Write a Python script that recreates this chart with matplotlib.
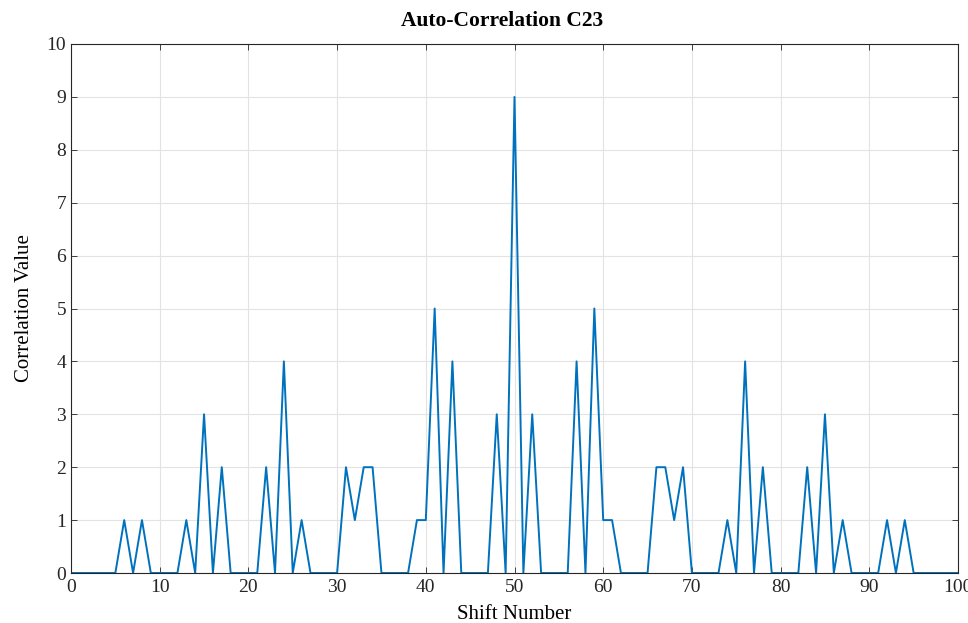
import matplotlib
matplotlib.use("Agg")
import matplotlib.pyplot as plt
import numpy as np

plt.rcParams['font.family'] = ['Liberation Serif', 'DejaVu Serif']

# Auto-correlation values for shifts 0..100
shifts = list(range(0, 101))
corr = [0, 0, 0, 0, 0, 0, 1, 0, 1, 0,
        0, 0, 0, 1, 0, 3, 0, 2, 0, 0,
        0, 0, 2, 0, 4, 0, 1, 0, 0, 0,
        0, 2, 1, 2, 2, 0, 0, 0, 0, 1,
        1, 5, 0, 4, 0, 0, 0, 0, 3, 0,
        9, 0, 3, 0, 0, 0, 0, 4, 0, 5,
        1, 1, 0, 0, 0, 0, 2, 2, 1, 2,
        0, 0, 0, 0, 1, 0, 4, 0, 2, 0,
        0, 0, 0, 2, 0, 3, 0, 1, 0, 0,
        0, 0, 1, 0, 1, 0, 0, 0, 0, 0,
        0]

x_ticks = list(range(0, 101, 10))
y_ticks = list(range(0, 11))

fig = plt.figure(figsize=(9.68, 6.23), dpi=100)
ax = fig.add_axes([71 / 968, 1 - 573 / 623, (958 - 71) / 968, (573 - 44) / 623])

ax.plot(shifts, corr, color='#0072BD', linewidth=1.4)

ax.set_xlim(0, 100)
ax.set_ylim(0, 10)
ax.set_xticks(x_ticks)
ax.set_yticks(y_ticks)
ax.grid(True, color='#e3e3e3', linewidth=0.8)
ax.set_axisbelow(True)

for s in ax.spines.values():
    s.set_color('#262626')
    s.set_linewidth(0.8)

ax.tick_params(direction='in', length=4, width=0.6, colors='#262626',
               top=True, right=True, labelsize=14)
ax.tick_params(axis='x', pad=4)

ax.set_xlabel('Shift Number', fontsize=15, labelpad=7)
ax.set_ylabel('Correlation Value', fontsize=15, labelpad=9)
ax.set_title('Auto-Correlation C23', fontsize=15.5, fontweight='bold',
             pad=13, x=0.486)

fig.savefig('out.png', dpi=100)
